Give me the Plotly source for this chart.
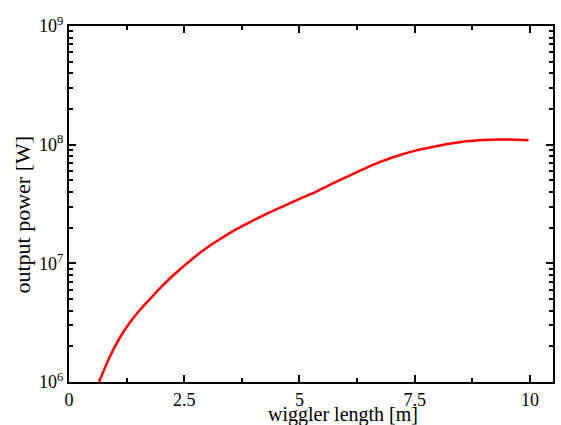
import plotly.graph_objects as go

# Wiggler length along the undulator [m]
length_m = [0.650, 0.888, 1.105, 1.321, 1.538, 1.754, 1.971, 2.188, 2.404, 2.621,
            2.837, 3.054, 3.271, 3.632, 3.992, 4.353, 4.715, 5.075, 5.365, 5.724,
            6.086, 6.448, 6.807, 7.169, 7.531, 7.964, 8.614, 9.335, 9.970]
# Output power [W]
power_w = [1.000e6, 1.641e6, 2.371e6, 3.170e6, 4.046e6, 5.000e6, 6.138e6, 7.447e6, 8.872e6, 1.047e7,
           1.222e7, 1.406e7, 1.596e7, 1.945e7, 2.296e7, 2.692e7, 3.112e7, 3.589e7, 4.027e7, 4.710e7,
           5.495e7, 6.383e7, 7.295e7, 8.147e7, 8.954e7, 9.705e7, 1.067e8, 1.107e8, 1.091e8]

x_ticks = [0, 2.5, 5, 7.5, 10]
x_tick_text = ["0", "2.5", "5", "7.5", "10"]
x_minor = [1.25, 3.75, 6.25, 8.75]
y_ticks = [1e6, 1e7, 1e8, 1e9]
y_tick_text = ["10<sup>6</sup>", "10<sup>7</sup>", "10<sup>8</sup>", "10<sup>9</sup>"]

x_title = "wiggler length [m]"
y_title = "output power [W]"

serif = "Liberation Serif"

fig = go.Figure(go.Scatter(
    x=length_m, y=power_w, mode="lines",
    line=dict(color="#ff0000", width=2.5, shape="spline", smoothing=0.7),
))

fig.update_layout(
    width=561, height=425,
    margin=dict(l=69, r=8, t=26, b=43),
    paper_bgcolor="white", plot_bgcolor="white",
    font=dict(family=serif, size=18, color="black"),
    showlegend=False,
)
axis_common = dict(
    ticks="inside", ticklen=7, tickwidth=2, tickcolor="black",
    showline=True, linewidth=2, linecolor="black", mirror="ticks",
    showgrid=False, zeroline=False, automargin=False,
    tickfont=dict(family=serif, size=18),
)
fig.update_xaxes(
    range=[0, 10.5], tickvals=x_ticks, ticktext=x_tick_text,
    minor=dict(tickvals=x_minor, ticks="inside", ticklen=4,
               tickwidth=1.5, tickcolor="black", showgrid=False),
    **axis_common,
)
fig.update_yaxes(
    type="log", range=[6, 9], tickvals=y_ticks, ticktext=y_tick_text,
    minor=dict(ticks="inside", ticklen=4, tickwidth=1.5, tickcolor="black",
               dtick="D1", showgrid=False),
    **axis_common,
)

# Axis titles placed as annotations so the plot area keeps its size
fig.add_annotation(
    text=x_title, xref="paper", yref="paper", x=0.567, y=0,
    xanchor="center", yanchor="bottom", yshift=-45, showarrow=False,
    borderpad=0, font=dict(family=serif, size=20, color="black"),
)
fig.add_annotation(
    text=y_title, xref="paper", yref="paper", x=0, y=0.4705,
    xanchor="center", yanchor="middle", xshift=-46, textangle=-90, showarrow=False,
    font=dict(family=serif, size=22, color="black"),
)

fig.write_html("out.html")
